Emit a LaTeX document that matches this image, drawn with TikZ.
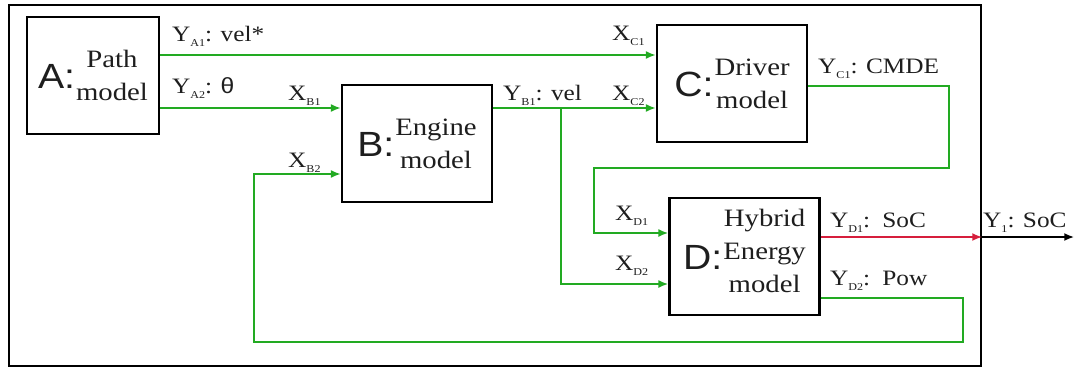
\documentclass[tikz,border=0pt]{standalone}
\usepackage{fontspec}
\setmainfont[FakeStretch=1.15]{Liberation Serif}
\newfontfamily\letterfont[FakeStretch=1.12]{Liberation Sans}
\usetikzlibrary{arrows.meta, positioning, calc}
\definecolor{flow-green}{RGB}{34,170,34}
\definecolor{flow-red}{RGB}{214,30,60}
\definecolor{ink}{RGB}{30,30,30}
\newcommand{\portsub}[1]{\raisebox{-5.5pt}{\fontsize{10.5}{10.5}\selectfont #1}}
\newcommand{\blockid}[1]{\raisebox{-12.5pt}{\letterfont\fontsize{35}{35}\selectfont #1:}\hspace{1pt}}
\newcommand{\blocktext}[2][-8.5pt]{\raisebox{#1}{\begin{tabular}{@{}c@{}}#2\end{tabular}}}

\begin{document}
\begin{tikzpicture}[x=1pt, y=-1pt,
  block/.style={draw, line width=2.2pt, minimum width=150pt, minimum height=117pt, inner sep=0pt, text height=0pt, text depth=0pt, text=ink, font=\fontsize{25}{33}\selectfont},
  port/.style={inner sep=0pt, anchor=base west, text=ink, font=\fontsize{22}{22}\selectfont},
  wire/.style={flow-green, line width=2pt, -{Latex[length=10pt,width=8pt]}},
]
  \useasboundingbox (0,0) rectangle (1080,370);

  % Frame
  \node[draw, line width=2.6pt, minimum width=972pt, minimum height=361pt, inner sep=0pt] (frame) at (495,185.5) {};

  % Blocks
  \node[block, minimum width=132pt] (A) at (93,75.5) {\blockid{A}\blocktext{Path\\model}};
  \node[block] (B) at (417,143.5) {\blockid{B}\blocktext{Engine\\model}};
  \node[block] (C) at (732,83.5) {\blockid{C}\blocktext{Driver\\model}};
  \node[block] (D) at (744.5,256.5) {\blockid{D}\blocktext[-3pt]{Hybrid\\Energy\\model}};

  % Ports
  \coordinate (ya1) at ([yshift=20.5pt]A.east);
  \coordinate (ya2) at ([yshift=-32.5pt]A.east);
  \coordinate (xb1) at ([yshift=35.5pt]B.west);
  \coordinate (xb2) at ([yshift=-30.5pt]B.west);
  \coordinate (yb1) at ([yshift=35.5pt]B.east);
  \coordinate (xc1) at ([yshift=28.5pt]C.west);
  \coordinate (xc2) at ([yshift=-24.5pt]C.west);
  \coordinate (yc1) at ([yshift=-2.5pt]C.east);
  \coordinate (xd1) at ([yshift=23.5pt]D.west);
  \coordinate (xd2) at ([yshift=-27.5pt]D.west);
  \coordinate (yd1) at ([yshift=19.5pt]D.east);
  \coordinate (yd2) at ([yshift=-41.5pt]D.east);
  \coordinate (y1) at (yd1 -| frame.east);
  \coordinate (out) at ([xshift=92pt]y1);

  % Connectors
  \draw[wire] (ya1) -- (xc1);
  \draw[wire] (ya2) -- (xb1);
  \draw[wire] (yb1) -- (xc2);
  \draw[wire] ([xshift=68pt]yb1) |- (xd2);
  \draw[wire] (yc1) -- ++(141,0) -- ++(0,82) -| ([xshift=-74pt]xd1) -- (xd1);
  \draw[wire] (yd2) -- ++(142,0) -- ++(0,44) -| ([xshift=-87pt]xb2) -- (xb2);
  \draw[flow-red, line width=2pt, -{Latex[length=10pt,width=8pt]}] (yd1) -- (y1);
  \draw[line width=2pt, -{Latex[length=10pt,width=8pt]}] (y1) -- (out);

  % Labels
  \node[port] (lya1) at (172,41) {Y\portsub{A1}: vel*};
  \node[port] (lya2) at (172,93) {Y\portsub{A2}: {\letterfont θ}};
  \node[port] (lxb1) at (288,100) {X\portsub{B1}};
  \node[port] (lxb2) at (288,167) {X\portsub{B2}};
  \node[port] (lyb1) at (503,100) {Y\portsub{B1}: vel};
  \node[port] (lxc1) at (612,40) {X\portsub{C1}};
  \node[port] (lxc2) at (612,100) {X\portsub{C2}};
  \node[port] (lyc1) at (818,73) {Y\portsub{C1}: CMDE};
  \node[port] (lxd1) at (615,220) {X\portsub{D1}};
  \node[port] (lxd2) at (615,270) {X\portsub{D2}};
  \node[port] (lyd1) at (830,227) {Y\portsub{D1}:\, SoC};
  \node[port] (lyd2) at (830,285) {Y\portsub{D2}:\, Pow};
  \node[port] (ly1) at (983,227) {Y\portsub{1}: SoC};
\end{tikzpicture}
\end{document}
